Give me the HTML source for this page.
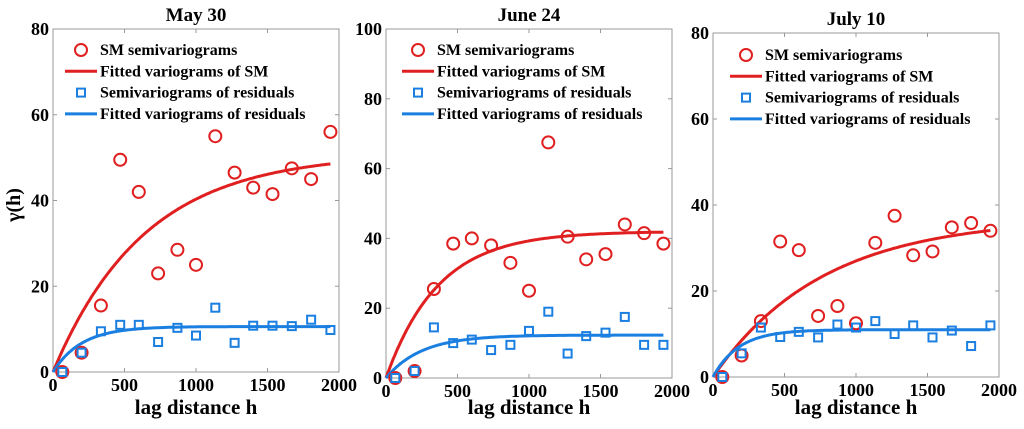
<!DOCTYPE html>
<html><head><meta charset="utf-8"><style>
html,body{margin:0;padding:0;background:#fff;}
svg{display:block;font-family:"Liberation Serif",serif;font-weight:bold;}
</style></head><body>
<svg id="chart" width="1024" height="429" viewBox="0 0 1024 429" xmlns="http://www.w3.org/2000/svg"></svg>
<script>
const lags = [65,200,335,470,600,735,870,1000,1135,1270,1400,1535,1670,1805,1940];
const titles = ["May 30","June 24","July 10"];
const yMaxes = [80,100,80];
const yTicks = [[0,20,40,60,80],[0,20,40,60,80,100],[0,20,40,60,80]];
const xTicks = [0,500,1000,1500,2000];
const smValues = [
 [0,4.5,15.5,49.5,42,23,28.5,25,55,46.5,43,41.5,47.5,45,56],
 [0,2,25.5,38.5,40,38,33,25,67.5,40.5,34,35.5,44,41.5,38.5],
 [0,5,13,31.5,29.5,14.2,16.5,12.5,31.2,37.5,28.3,29.2,34.8,35.8,34]
];
const residValues = [
 [0,4.5,9.5,11,11,7,10.3,8.5,15,6.8,10.8,10.8,10.7,12.2,9.8],
 [0,2,14.5,10,11,8,9.5,13.5,19,7,12,13,17.5,9.5,9.5],
 [0,5.5,11.5,9.3,10.5,9.2,12.2,11.5,13,10,12,9.2,10.8,7.2,12]
];
const smSill = [51,42,37];
const smRange = [640,365,765];
const residSill = [10.6,12.3,11];
const residRange = [200,250,180];
const legendLabels = ["SM semivariograms","Fitted variograms of SM","Semivariograms of residuals","Fitted variograms of residuals"];

const panels = [
 {l:53,r:339,t:29,b:372,legX:81,legY:50,slug:"may-30"},
 {l:386,r:672,t:29,b:378,legX:418,legY:50,slug:"june-24"},
 {l:713,r:999,t:33,b:377,legX:746,legY:55,slug:"july-10"}
];
const RED="#e02020", BLUE="#1a7fe0";
const svg=document.getElementById('chart');
const NS="http://www.w3.org/2000/svg";
function mk(tag,attrs,parent){const e=document.createElementNS(NS,tag);for(const k in attrs)e.setAttribute(k,attrs[k]);(parent||svg).appendChild(e);return e;}

panels.forEach((p,i)=>{
 const g=mk('g',{});
 
 
 const xs=v=>p.l+(v/2000)*(p.r-p.l);
 const ys=v=>p.b-(v/yMaxes[i])*(p.b-p.t);
 const frame=mk('rect',{x:p.l,y:p.t,width:p.r-p.l,height:p.b-p.t,fill:'none',stroke:'#999','stroke-width':1},g);
 
 
 const tt=mk('text',{x:(p.l+p.r)/2,y:p.t-8,'text-anchor':'middle','font-size':19},g);
 tt.textContent=titles[i];
 
 
 yTicks[i].forEach(v=>{
  const y=ys(v);
  mk('line',{x1:p.l,x2:p.l+4,y1:y,y2:y,stroke:'#999'},g);
  mk('line',{x1:p.r,x2:p.r-4,y1:y,y2:y,stroke:'#999'},g);
  const t=mk('text',{x:p.l-4,y:y+6,'text-anchor':'end','font-size':18},g);
  t.textContent=v;
  
  
 });
 xTicks.forEach(v=>{
  const x=xs(v);
  mk('line',{x1:x,x2:x,y1:p.b,y2:p.b-4,stroke:'#999'},g);
  mk('line',{x1:x,x2:x,y1:p.t,y2:p.t+4,stroke:'#999'},g);
  const t=mk('text',{x:x,y:p.b+19,'text-anchor':'middle','font-size':18},g);
  t.textContent=v;
  
  
 });
 const xl=mk('text',{x:(p.l+p.r)/2,y:414,'text-anchor':'middle','font-size':21},g);
 xl.textContent='lag distance h';
 
 
 function curve(sill,range,color,name){
  let d='';
  for(let h=0;h<=1940;h+=10){const v=sill*(1-Math.exp(-h/range));d+=(h?'L':'M')+xs(h).toFixed(1)+','+ys(v).toFixed(1);}
  const c=mk('path',{d:d,fill:'none',stroke:color,'stroke-width':3},g);
  
  
 }
 curve(smSill[i],smRange[i],RED,'fitted-sm-curve');
 curve(residSill[i],residRange[i],BLUE,'fitted-residual-curve');
 lags.forEach((h,j)=>{
  const c=mk('circle',{cx:xs(h),cy:ys(smValues[i][j]),r:6,fill:'none',stroke:RED,'stroke-width':2},g);
  
  
  const s=mk('rect',{x:xs(h)-4,y:ys(residValues[i][j])-4,width:8,height:8,fill:'none',stroke:BLUE,'stroke-width':2},g);
  
  
 });
 const lg=mk('g',{},g);
 
 
 legendLabels.forEach((lab,k)=>{
  const y=p.legY+k*21.3;
  if(k===0) mk('circle',{cx:p.legX,cy:y,r:6,fill:'none',stroke:RED,'stroke-width':2},lg);
  if(k===2) mk('rect',{x:p.legX-4,y:y-4,width:8,height:8,fill:'none',stroke:BLUE,'stroke-width':2},lg);
  if(k===1||k===3) mk('line',{x1:p.legX-16,x2:p.legX+16,y1:y,y2:y,stroke:k===1?RED:BLUE,'stroke-width':3},lg);
  const t=mk('text',{x:p.legX+19,y:y+5,'font-size':16},lg);
  t.textContent=lab;
  
  
 });
});
const yl=mk('text',{x:0,y:0,'text-anchor':'middle','font-size':20,transform:'translate(20,205) rotate(-90)'});
yl.textContent='γ(h)';


</script>
</body></html>
